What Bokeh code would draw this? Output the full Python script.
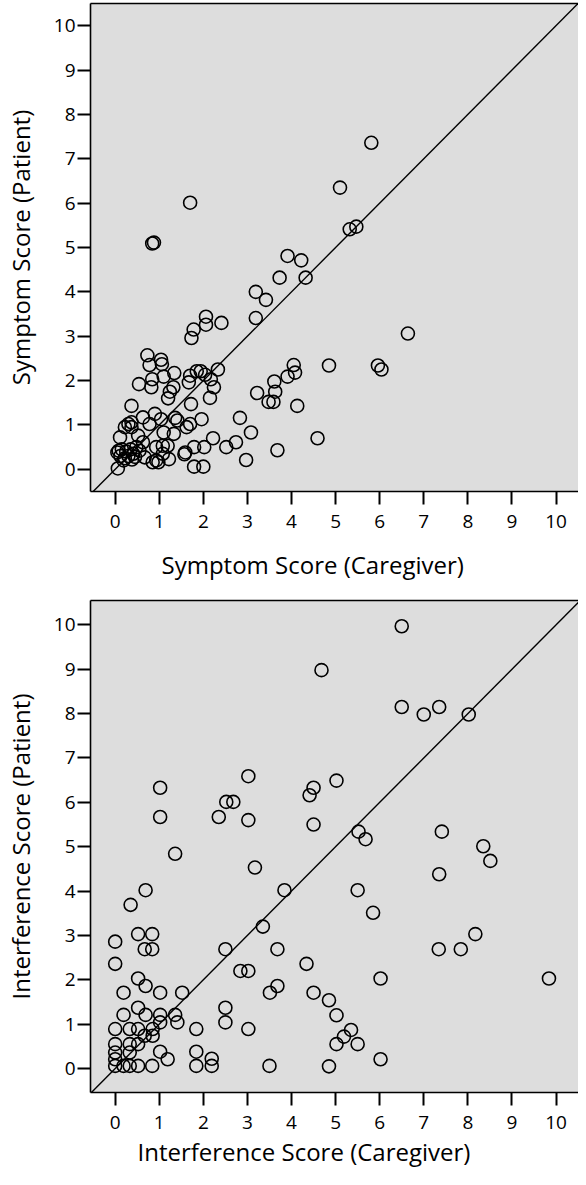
from bokeh.plotting import figure
from bokeh.models import FixedTicker, LinearAxis, Range1d, Title, Slope
from bokeh.layouts import column
from bokeh.embed import file_html
from bokeh.resources import INLINE

tick_values = list(range(0, 11))

symptom_caregiver = [
    5.81, 5.10, 5.32, 5.47, 3.91, 4.22, 3.73, 4.32, 3.19, 3.42, 3.19, 6.64, 5.96, 6.04, 4.85,
    4.05, 4.08, 3.91, 3.61, 3.63, 3.22, 3.48, 3.59, 4.13, 4.59, 3.68, 3.08, 2.97, 2.83, 2.74,
    2.52, 2.22, 2.02, 1.79, 1.79, 2.00, 1.59, 1.57, 1.96, 1.72, 1.62, 1.70, 1.41, 1.36, 1.22,
    0.98, 0.85, 1.08, 1.10, 1.04, 0.90, 0.63, 0.78, 0.30, 0.22, 0.11, 0.52, 0.63, 0.06, 0.37,
    1.85, 1.70, 1.94, 2.04, 1.67, 2.17, 2.24, 2.15, 2.33, 2.06, 1.78, 2.06, 2.41, 1.73, 0.73,
    1.04, 1.06, 0.78, 1.34, 1.10, 0.84, 0.54, 0.82, 1.32, 1.24, 1.20, 1.70, 0.84, 0.88,
    1.33, 1.19, 0.93, 1.08, 0.93, 0.67, 0.41, 0.08, 0.19, 0.05, 0.12, 0.15, 0.25, 0.30, 0.35,
    0.45, 0.55, 0.22, 0.48, 0.38, 0.37, 0.37,
]
symptom_patient = [
    7.36, 6.35, 5.41, 5.47, 4.81, 4.71, 4.32, 4.32, 4.00, 3.82, 3.41, 3.06, 2.34, 2.25, 2.34,
    2.35, 2.18, 2.09, 1.98, 1.75, 1.72, 1.52, 1.52, 1.43, 0.70, 0.43, 0.83, 0.21, 1.16, 0.61,
    0.50, 0.70, 0.50, 0.50, 0.06, 0.06, 0.38, 0.34, 1.13, 1.47, 0.95, 1.02, 1.10, 1.16, 0.23,
    0.16, 0.16, 0.53, 0.83, 1.13, 1.25, 1.17, 1.02, 1.02, 0.95, 0.72, 0.76, 0.61, 0.02, 1.43,
    2.21, 2.11, 2.21, 2.13, 1.96, 2.03, 1.85, 1.61, 2.25, 3.44, 3.15, 3.26, 3.30, 2.96, 2.57,
    2.47, 2.37, 2.35, 2.17, 2.09, 2.03, 1.92, 1.85, 1.85, 1.75, 1.60, 6.01, 5.09, 5.11,
    0.80, 0.53, 0.50, 0.35, 0.20, 0.27, 0.35, 0.42, 0.20, 0.38, 0.30, 0.45, 0.40, 0.30, 0.45,
    0.28, 0.42, 0.25, 0.50, 0.22, 1.06, 0.95,
]

interference_caregiver = [
    6.50, 4.68, 6.50, 7.00, 7.35, 8.02, 1.02, 1.02, 1.36, 3.02, 2.52, 2.68, 2.35, 3.02, 4.50,
    4.41, 5.02, 4.50, 5.52, 5.68, 7.41, 8.35, 8.51, 3.17, 7.35, 5.50, 5.85, 8.17, 7.34, 7.84,
    6.02, 9.84, 4.85, 5.02, 5.35, 5.19, 5.02, 5.50, 4.85, 6.02, 0.69, 0.35, 3.84, 0.52, 0.84,
    0.67, 0.84, 0.00, 0.00, 3.35, 2.50, 3.68, 4.34, 2.84, 3.02, 3.51, 3.68, 4.50, 0.52, 0.69,
    0.19, 1.02, 1.52, 0.52, 0.69, 0.19, 1.02, 1.36, 1.02, 1.41, 2.50, 2.50, 3.02, 1.84, 0.00,
    0.33, 0.52, 0.85, 0.67, 0.85, 0.00, 0.33, 0.52, 0.00, 0.33, 0.00, 0.00, 0.19, 0.33, 0.52,
    0.84, 1.02, 1.19, 1.84, 1.84, 2.19, 2.19, 3.50,
]
interference_patient = [
    9.97, 8.98, 8.15, 7.98, 8.15, 7.98, 6.33, 5.67, 4.84, 6.59, 6.01, 6.01, 5.67, 5.60, 6.33,
    6.16, 6.49, 5.50, 5.34, 5.17, 5.34, 5.01, 4.68, 4.53, 4.38, 4.02, 3.51, 3.03, 2.69, 2.69,
    2.03, 2.03, 1.54, 1.20, 0.87, 0.72, 0.55, 0.55, 0.05, 0.21, 4.02, 3.69, 4.02, 3.03, 3.03,
    2.69, 2.69, 2.86, 2.36, 3.20, 2.69, 2.69, 2.36, 2.20, 2.20, 1.71, 1.86, 1.71, 2.03, 1.86,
    1.71, 1.71, 1.71, 1.37, 1.21, 1.21, 1.21, 1.21, 1.04, 1.04, 1.37, 1.04, 0.89, 0.89, 0.89,
    0.89, 0.89, 0.89, 0.74, 0.74, 0.55, 0.55, 0.55, 0.36, 0.36, 0.21, 0.06, 0.06, 0.06, 0.06,
    0.06, 0.38, 0.21, 0.38, 0.06, 0.22, 0.06, 0.06,
]

FONT = "Open Sans"


def make(xs, ys, xlab, ylab, height, top, bottom, yr, title_offset, title_standoff):
    p = figure(width=578, height=height, output_backend="svg", toolbar_location=None,
               x_range=Range1d(-0.56, 10.51), y_range=Range1d(yr[0], yr[1]),
               min_border_left=80, min_border_right=0, min_border_top=top,
               min_border_bottom=bottom)
    p.background_fill_color = "#dddddd"
    p.border_fill_color = "white"
    p.outline_line_color = None
    p.grid.visible = False
    for ax in (p.xaxis[0], p.yaxis[0]):
        ax.ticker = FixedTicker(ticks=tick_values)
        ax.major_tick_out = 13
        ax.major_tick_in = 0
        ax.major_tick_line_width = 2
        ax.major_tick_line_color = "black"
        ax.minor_tick_line_color = None
        ax.axis_line_width = 1.6
        ax.axis_line_color = "black"
        ax.major_label_text_font = FONT
        ax.major_label_text_font_size = "19px"
        ax.major_label_text_color = "black"
    p.xaxis[0].major_label_standoff = 10
    p.yaxis[0].major_label_standoff = 2
    p.yaxis[0].axis_label = ylab
    p.yaxis[0].axis_label_text_font = FONT
    p.yaxis[0].axis_label_text_font_size = "24px"
    p.yaxis[0].axis_label_text_font_style = "normal"
    p.yaxis[0].axis_label_text_color = "black"
    p.yaxis[0].axis_label_standoff = 14

    top_ax = LinearAxis(ticker=FixedTicker(ticks=[]), axis_line_width=1.6,
                        axis_line_color="black", major_tick_out=0, major_tick_in=0,
                        minor_tick_line_color=None, major_label_text_font_size="0px")
    p.add_layout(top_ax, "above")

    p.add_layout(Title(text=xlab, align="left", offset=title_offset, text_font=FONT,
                       text_font_size="24px", text_font_style="normal",
                       text_color="black", standoff=title_standoff), "below")

    p.add_layout(Slope(gradient=1, y_intercept=0, line_color="black", line_width=1.4))
    p.scatter(xs, ys, marker="circle", size=13, fill_color=None,
              line_color="black", line_width=1.6)
    return p


p1 = make(symptom_caregiver, symptom_patient, "Symptom Score (Caregiver)",
          "Symptom Score (Patient)", 596, 3, 105, (-0.5, 10.5), 71, 30)
p2 = make(interference_caregiver, interference_patient, "Interference Score (Caregiver)",
          "Interference Score (Patient)", 573, 4, 77, (-0.54, 10.55), 47, 2)

layout = column(p1, p2, spacing=0)
open("out.html", "w").write(file_html(layout, INLINE))
